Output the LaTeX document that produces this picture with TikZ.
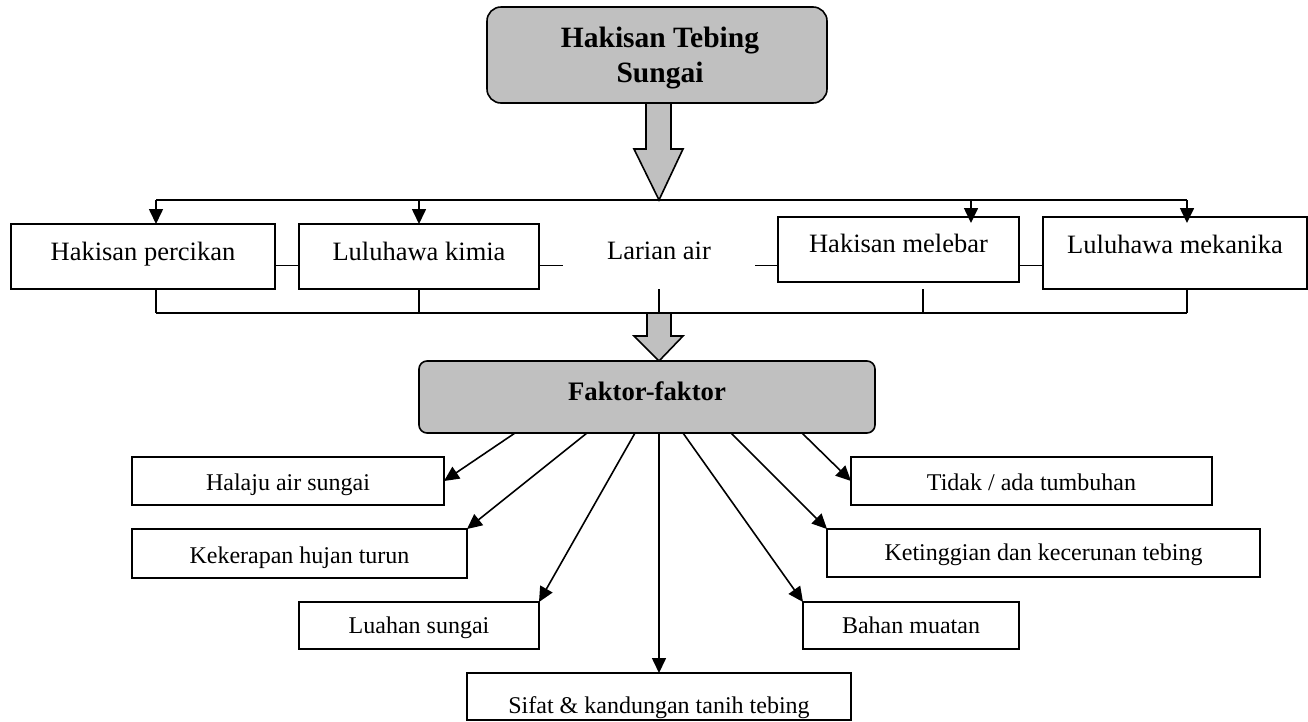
\documentclass[tikz,border=0pt]{standalone}
\usepackage{fontspec}
\setmainfont{Liberation Serif}
\usetikzlibrary{arrows.meta,calc}
\definecolor{boxgray}{RGB}{192,192,192}
\begin{document}
\begin{tikzpicture}[x=1pt,y=-1pt,
  line width=1.6pt,
  rbox/.style={draw, rectangle, inner xsep=0pt, inner ysep=0pt, outer sep=0pt, anchor=north west},
  upfont/.style={font=\fontsize{26.5}{30}\selectfont},
  lowfont/.style={font=\fontsize{24}{28}\selectfont},
  th/.style 2 args={text height=#1pt, text depth=#2pt},
  arr/.style={-{Triangle[length=15pt,width=14pt]}},
  blk/.style={fill=boxgray, draw, line join=miter}
]
\useasboundingbox (0,0) rectangle (1308,721);

% block arrows
\filldraw[blk] (646,103) -- (646,149) -- (634,149) -- (659,200) -- (683,149) -- (671,149) -- (671,103) -- cycle;
\filldraw[blk] (647,313) -- (647,336) -- (634,336) -- (659,361) -- (683,336) -- (671,336) -- (671,313) -- cycle;

% top box
\node[draw, fill=boxgray, rounded corners=14pt, minimum width=340pt, minimum height=96pt,
      inner sep=0pt, outer sep=0pt,
      label={[font=\fontsize{29.5}{35}\selectfont\bfseries, align=center, xshift=3pt, yshift=-3pt]center:{Hakisan Tebing\\Sungai}}]
      (topbox) at (657,55) {};

% upper row
\node[rbox, upfont, th={36}{29}, minimum width=264pt] (percikan) at (11,224) {Hakisan percikan};
\node[rbox, upfont, th={36}{29}, minimum width=240pt] (kimia) at (299,224) {Luluhawa kimia};
\node[rbox, draw=none, upfont, th={35}{30}, minimum width=192pt] (larian) at (563,224) {Larian air};
\node[rbox, upfont, th={35}{30}, minimum width=241pt] (melebar) at (778,217) {Hakisan melebar};
\node[rbox, upfont, th={36}{36}, minimum width=264pt] (mekanika) at (1043,217) {Luluhawa mekanika};

% buses
\coordinate (bus) at (659,200);
\coordinate (bus2) at (659,313);
\coordinate (mid) at (0,265.5);
\coordinate (p1) at ($(percikan.north)+(13,0)$);
\coordinate (m1) at ($(melebar.north)+(72.5,6)$);
\coordinate (m2) at ($(melebar.south)+(24.5,7)$);
\coordinate (q1) at ($(mekanika.north)+(12,6)$);

\draw (p1 |- bus) -- (q1 |- bus);
\draw[arr] (p1 |- bus) -- (p1);
\draw[arr] (kimia.north |- bus) -- (kimia.north);
\draw[arr] (m1 |- bus) -- (m1);
\draw[arr] (q1 |- bus) -- (q1);

\draw (percikan.east |- mid) -- (kimia.west |- mid);
\draw (kimia.east |- mid) -- (larian.west |- mid);
\draw (larian.east |- mid) -- (melebar.west |- mid);
\draw (melebar.east |- mid) -- (mekanika.west |- mid);

\draw (p1 |- percikan.south) -- (p1 |- bus2);
\draw (kimia.south) -- (kimia.south |- bus2);
\draw (larian.south) -- (larian.south |- bus2);
\draw (m2) -- (m2 |- bus2);
\draw (q1 |- mekanika.south) -- (q1 |- bus2);
\draw (p1 |- bus2) -- (q1 |- bus2);

% faktor box
\node[rbox, fill=boxgray, rounded corners=8pt, th={39}{33}, minimum width=456pt,
      font=\fontsize{26.7}{30}\selectfont\bfseries] (faktor) at (419,361) {Faktor-faktor};

% lower boxes
\node[rbox, lowfont, th={33}{15}, minimum width=312pt] (halaju) at (132,457) {Halaju air sungai};
\node[rbox, lowfont, th={34}{15}, minimum width=335pt] (kekerapan) at (132,529) {Kekerapan hujan turun};
\node[rbox, lowfont, th={31}{16}, minimum width=240pt] (luahan) at (299,602) {Luahan sungai};
\node[rbox, lowfont, th={40}{7}, minimum width=384pt] (sifat) at (467,673) {Sifat \& kandungan tanih tebing};
\node[rbox, lowfont, th={31}{16}, minimum width=216pt] (bahan) at (803,602) {Bahan muatan};
\node[rbox, lowfont, th={31}{17}, minimum width=433pt] (ketinggian) at (827,529) {Ketinggian dan kecerunan tebing};
\node[rbox, lowfont, th={33}{15}, minimum width=361pt] (tidak) at (851,457) {Tidak / ada tumbuhan};

\draw[arr] ([xshift=-132pt]faktor.south) -- (halaju.east);
\draw[arr] ([xshift=-60pt]faktor.south) -- (kekerapan.north east);
\draw[arr] ([xshift=-12pt]faktor.south) -- (luahan.north east);
\draw[arr] (faktor.south -| sifat.north) -- (sifat.north);
\draw[arr] ([xshift=36pt]faktor.south) -- (bahan.north west);
\draw[arr] ([xshift=84pt]faktor.south) -- (ketinggian.north west);
\draw[arr] ([xshift=155pt]faktor.south) -- (tidak.west);
\end{tikzpicture}
\end{document}
